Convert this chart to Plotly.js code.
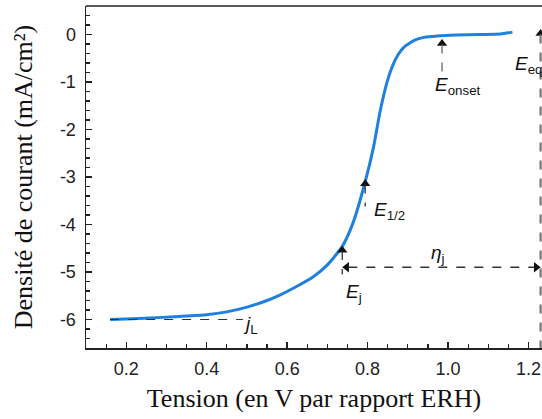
<!DOCTYPE html>
<html>
<head>
<meta charset="utf-8">
<script src="https://cdn.plot.ly/plotly-3.0.1.min.js"></script>
<style>html,body{margin:0;padding:0;overflow:hidden;background:#fff}</style>
</head>
<body>
<div id="chart" style="width:542px;height:419px"></div>
<script>
// Polarisation curve (V vs RHE, mA/cm²)
const tension = [0.16, 0.20, 0.26, 0.32, 0.40, 0.45, 0.50, 0.55, 0.583, 0.62, 0.665, 0.70, 0.737, 0.764, 0.794, 0.815, 0.831, 0.849, 0.862, 0.876, 0.89, 0.905, 0.92, 0.94, 0.973, 1.02, 1.08, 1.13, 1.16];
const courant = [-6.00, -5.99, -5.97, -5.94, -5.90, -5.84, -5.74, -5.60, -5.48, -5.32, -5.10, -4.85, -4.46, -3.96, -3.10, -2.36, -1.62, -0.98, -0.66, -0.42, -0.27, -0.18, -0.11, -0.06, -0.03, -0.01, 0.00, 0.01, 0.05];

// Characteristic values
const E_onset = 0.985, j_onset = -0.11;
const E_half = 0.794, j_half = -3.06;
const E_j = 0.737, j_Ej = -4.46;
const E_eq = 1.23, j_eq_top = 0.1;
const eta_level = -4.9;
const j_L = -6.0, jL_start = 0.16, jL_end = 0.49;

const yTicks = [0, -1, -2, -3, -4, -5, -6];
const yTickText = ["0", "-1", "-2", "-3", "-4", "-5", "-6"];
const xTicks = [0.2, 0.4, 0.6, 0.8, 1.0, 1.2];
const xTickText = ["0.2", "0.4", "0.6", "0.8", "1.0", "1.2"];

const dashCol = '#333333';
const labelFont = {family: 'Liberation Sans, Arial, sans-serif', size: 19, color: '#111'};

const curve = {
  x: tension, y: courant, type: 'scatter', mode: 'lines',
  line: {color: '#1f80e0', width: 3, shape: 'spline', smoothing: 0.6},
  hoverinfo: 'skip'
};

// arrowheads (tips placed at characteristic points, markers offset a few pixels)
const dy = 0.08, dx = 0.011;
const headsUp = {
  x: [E_onset, E_half, E_j, E_eq],
  y: [j_onset - dy, j_half - dy, j_Ej - dy, j_eq_top - dy],
  type: 'scatter', mode: 'markers', hoverinfo: 'skip', cliponaxis: false,
  marker: {symbol: 'triangle-up', size: 9, color: '#111'}
};
const headsLeft = {
  x: [E_j + dx], y: [eta_level], type: 'scatter', mode: 'markers', hoverinfo: 'skip',
  marker: {symbol: 'triangle-left', size: 9, color: '#111'}
};
const headsRight = {
  x: [E_eq - dx], y: [eta_level], type: 'scatter', mode: 'markers', hoverinfo: 'skip',
  marker: {symbol: 'triangle-right', size: 9, color: '#111'}
};

function vline(x, y0, y1, w, col) {
  return {type: 'line', xref: 'x', yref: 'y', x0: x, x1: x, y0: y0, y1: y1,
          line: {color: col || dashCol, width: w || 1.3, dash: 'dash'}};
}
function label(x, y, txt, anchor) {
  return {x: x, y: y, xref: 'x', yref: 'y', text: txt, showarrow: false,
          xanchor: anchor || 'left', yanchor: 'middle', font: labelFont};
}

const shapes = [
  {type: 'line', xref: 'paper', yref: 'paper', x0: 0, x1: 1, y0: 1, y1: 1, line: {color: '#222', width: 1.5}},
  vline(E_onset, j_onset - 0.1, -0.79, 1.3, '#666'),
  vline(E_half, j_half - 0.1, -3.62),
  vline(E_j, j_Ej - 0.1, -5.05),
  {type: 'line', xref: 'x', yref: 'y', x0: E_j + 0.015, x1: E_eq - 0.015, y0: eta_level, y1: eta_level, line: {color: dashCol, width: 1.3, dash: 'dash'}},
  vline(E_eq, j_eq_top - 0.1, -6.6, 2.2, '#777'),
  {type: 'line', xref: 'x', yref: 'y', x0: jL_start, x1: jL_end, y0: j_L, y1: j_L, line: {color: '#333', width: 1, dash: 'dash'}}
];

const annotations = [
  label(0.962, -1.08, '<i>E</i><sub>onset</sub>'),
  label(1.161, -0.64, '<i>E</i><sub>eq</sub>'),
  label(0.810, -3.72, '<i>E</i><sub>1/2</sub>'),
  label(0.975, -4.62, '<i>η</i><sub>j</sub>', 'center'),
  label(0.742, -5.45, '<i>E</i><sub>j</sub>'),
  label(0.486, -6.12, '<i>j</i><sub>L</sub>')
];

const layout = {
  width: 542, height: 419,
  margin: {l: 86, r: 0, t: 6, b: 71},
  paper_bgcolor: '#fff', plot_bgcolor: '#fff',
  showlegend: false,
  font: {family: 'Liberation Sans, Arial, sans-serif', color: '#111'},
  xaxis: {
    range: [0.1, 1.2335], showgrid: false, zeroline: false,
    showline: true, linecolor: '#222', linewidth: 1.5,
    ticks: 'inside', ticklen: 6, tickwidth: 1.3, tickcolor: '#222',
    tickvals: xTicks, ticktext: xTickText, ticklabelstandoff: 4,
    tickfont: {size: 18, family: 'Liberation Sans, Arial, sans-serif', color: '#222'},
    minor: {dtick: 0.05, ticks: 'inside', ticklen: 4, tickwidth: 1.2, tickcolor: '#222', showgrid: false},
    title: {text: 'Tension (en V par rapport ERH)', standoff: 10,
            font: {family: 'Liberation Serif, Times New Roman, serif', size: 26, color: '#111'}}
  },
  yaxis: {
    range: [-6.6, 0.6], showgrid: false, zeroline: false,
    showline: true, linecolor: '#222', linewidth: 1.5,
    ticks: 'inside', ticklen: 6, tickwidth: 1.3, tickcolor: '#222',
    tickvals: yTicks, ticktext: yTickText, ticklabelstandoff: 5,
    tickfont: {size: 18, family: 'Liberation Sans, Arial, sans-serif', color: '#222'},
    minor: {dtick: 0.2, ticks: 'inside', ticklen: 4, tickwidth: 1.2, tickcolor: '#222', showgrid: false},
    title: {text: 'Densité de courant (mA/cm²)', standoff: 20,
            font: {family: 'Liberation Serif, Times New Roman, serif', size: 26, color: '#111'}}
  },
  shapes: shapes,
  annotations: annotations
};

Plotly.newPlot('chart', [curve, headsUp, headsLeft, headsRight], layout, {displayModeBar: false, staticPlot: true});
</script>
</body>
</html>
